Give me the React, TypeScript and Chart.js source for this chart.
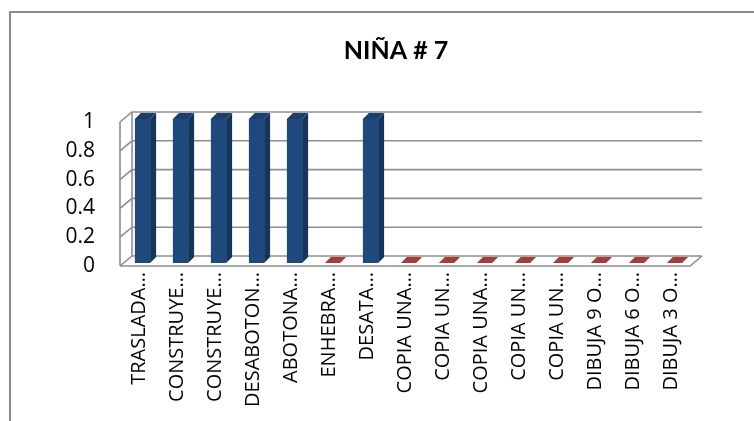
import React, { useEffect, useRef } from 'react';
import { Chart, registerables } from 'chart.js';

Chart.register(...registerables);

const TITLE = 'NIÑA # 7';
const categories = [
  'TRASLADA…',
  'CONSTRUYE…',
  'CONSTRUYE…',
  'DESABOTON…',
  'ABOTONA…',
  'ENHEBRA…',
  'DESATA…',
  'COPIA UNA…',
  'COPIA UN…',
  'COPIA UNA…',
  'COPIA UN…',
  'COPIA UN…',
  'DIBUJA 9 O…',
  'DIBUJA 6 O…',
  'DIBUJA 3 O…',
];
const values = [1, 1, 1, 1, 1, 0, 1, 0, 0, 0, 0, 0, 0, 0, 0];
const yTicks = [0, 0.2, 0.4, 0.6, 0.8, 1];
const yTickLabels = ['0', '0.2', '0.4', '0.6', '0.8', '1'];

const BLUE = '#1f497d';
const BLUE_SIDE = '#16355c';
const BLUE_TOP = '#1b3e6b';
const RED_TOP = '#a33e3b';

const DX = 12;
const DY = 10;
const BOX = 3.5;
const BOY = 3;
const BDX = 6;
const BDY = 6;

const threeD = {
  id: 'threeD',
  beforeDraw(chart: any) {
    const ctx = chart.ctx;
    ctx.save();
    ctx.strokeStyle = '#8a8a8a';
    ctx.lineWidth = 2;
    ctx.beginPath();
    ctx.moveTo(10, 600);
    ctx.lineTo(10, 12);
    ctx.lineTo(900, 12);
    ctx.stroke();
    ctx.restore();
  },
  beforeDatasetsDraw(chart: any) {
    const { ctx, chartArea, scales } = chart;
    const { left, right, top, bottom } = chartArea;
    const y = scales.y;
    ctx.save();
    ctx.strokeStyle = '#8e8e8e';
    ctx.lineWidth = 1.6;
    ctx.beginPath();
    yTicks.forEach((v) => {
      const py = y.getPixelForValue(v);
      ctx.moveTo(left, py);
      ctx.lineTo(left + DX, py - DY);
      ctx.lineTo(right + DX, py - DY);
    });
    ctx.moveTo(left, top);
    ctx.lineTo(left, bottom);
    ctx.moveTo(left + DX, top - DY);
    ctx.lineTo(left + DX, bottom - DY);
    ctx.moveTo(left, bottom);
    ctx.lineTo(right, bottom);
    ctx.lineTo(right + DX, bottom - DY);
    ctx.stroke();
    ctx.restore();
    ctx.save();
    ctx.translate(BOX, -BOY);
  },
  afterDatasetsDraw(chart: any) {
    const ctx = chart.ctx;
    ctx.restore();
    const meta = chart.getDatasetMeta(0);
    meta.data.forEach((bar: any) => {
      const { x, y, base, width } = bar.getProps(['x', 'y', 'base', 'width'], true);
      const l = x - width / 2 + BOX;
      const r = x + width / 2 + BOX;
      const t = y - BOY;
      const b = base - BOY;
      const hasHeight = b - t > 0.5;
      ctx.save();
      if (hasHeight) {
        ctx.fillStyle = BLUE_SIDE;
        ctx.beginPath();
        ctx.moveTo(r, t);
        ctx.lineTo(r + BDX, t - BDY);
        ctx.lineTo(r + BDX, b - BDY);
        ctx.lineTo(r, b);
        ctx.closePath();
        ctx.fill();
      }
      ctx.fillStyle = hasHeight ? BLUE_TOP : RED_TOP;
      ctx.beginPath();
      ctx.moveTo(l, t);
      ctx.lineTo(l + BDX, t - BDY);
      ctx.lineTo(r + BDX, t - BDY);
      ctx.lineTo(r, t);
      ctx.closePath();
      ctx.fill();
      ctx.restore();
    });
  },
  afterDraw(chart: any) {
    const ctx = chart.ctx;
    ctx.save();
    ctx.fillStyle = '#000';
    ctx.font = 'bold 25px Lato';
    ctx.textAlign = 'center';
    ctx.textBaseline = 'middle';
    ctx.fillText(TITLE, 396, 51);
    ctx.restore();
  },
};

export default function App() {
  const ref = useRef<HTMLCanvasElement | null>(null);
  useEffect(() => {
    if (!ref.current) return;
    const chart = new Chart(ref.current, {
      type: 'bar',
      data: {
        labels: categories,
        datasets: [
          {
            label: TITLE,
            data: values,
            backgroundColor: values.map((v) => (v > 0 ? BLUE : RED_TOP)),
            borderWidth: 0,
            barPercentage: 0.4,
            categoryPercentage: 1,
          },
        ],
      },
      options: {
        responsive: false,
        animation: false,
        layout: { padding: { left: 0, right: 64, top: 122, bottom: 0 } },
        plugins: {
          legend: { display: false },
          tooltip: { enabled: false },
          title: { display: false },
        },
        scales: {
          x: {
            grid: { display: false, drawTicks: false },
            border: { display: false },
            ticks: {
              minRotation: 90,
              maxRotation: 90,
              autoSkip: false,
              padding: 6,
              color: '#000',
              font: { family: 'Open Sans', size: 20 },
            },
            afterFit: (s: any) => {
              s.height = 155;
            },
          },
          y: {
            min: 0,
            max: 1,
            ticks: {
              stepSize: 0.2,
              padding: 25,
              color: '#000',
              font: { family: 'Open Sans', size: 21 },
              callback: (_v: any, i: number) => yTickLabels[i],
            },
            grid: { display: false, drawTicks: false },
            border: { display: false },
            afterFit: (s: any) => {
              s.width = 120;
            },
          },
        },
      },
      plugins: [threeD],
    });
    return () => chart.destroy();
  }, []);
  return (
    <div style={{ position: 'fixed', left: 0, top: 0, width: 754, height: 421, background: '#fff' }}>
      <canvas ref={ref} width={754} height={421} style={{ display: 'block' }} />
    </div>
  );
}
